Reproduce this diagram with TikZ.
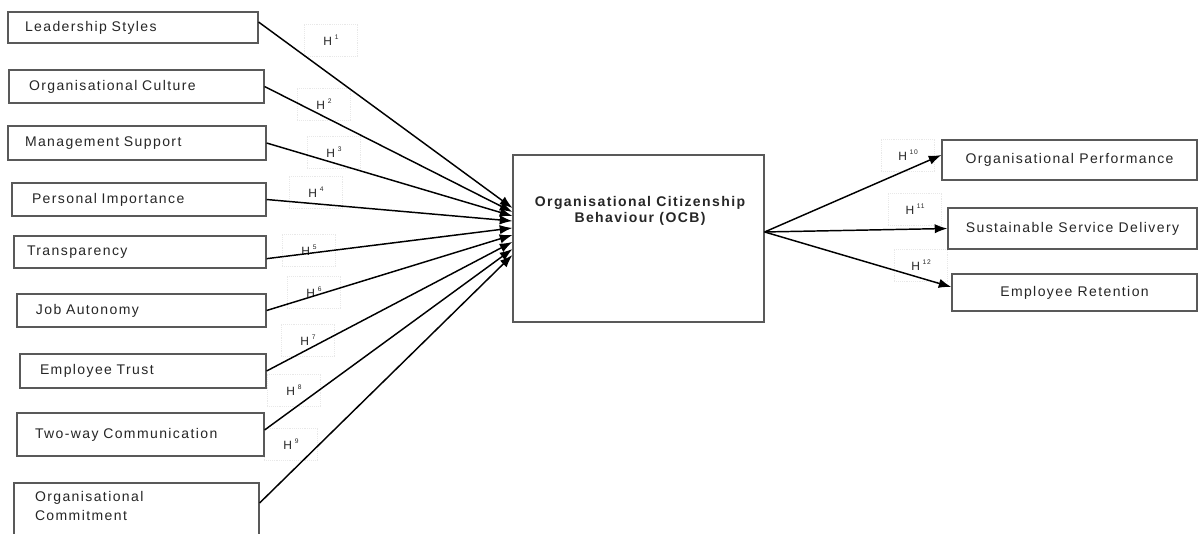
\documentclass[tikz,border=0pt]{standalone}
\usepackage{fontspec}
\setmainfont{Liberation Sans}[LetterSpace=10]
\usetikzlibrary{arrows.meta}
\newcommand{\Hsup}[1]{H\hspace{2pt}\raisebox{4.5pt}{\fontsize{5}{5}\selectfont #1}}
\begin{document}
\begin{tikzpicture}[x=0.75pt,y=-0.75pt,
  inbox/.style={draw=black!65, line width=0.9pt, fill=white, align=left, inner ysep=0pt,
    font=\fontsize{10.5}{14}\selectfont, text=black!85},
  outbox/.style={draw=black!65, line width=0.9pt, fill=white, align=center, inner sep=0pt,
    font=\fontsize{10.5}{14}\selectfont, text=black!85},
  link/.style={line width=1.1pt, -{Latex[length=9.5pt,width=7pt]}},
  hlab/.style={draw=black!9, densely dotted, font=\fontsize{9}{9}\selectfont,
    minimum width=40pt, minimum height=24pt, text=black!85, inner sep=1pt}
]
\useasboundingbox (0,0) rectangle (1198,533);

% hypothesis labels (drawn first so the connectors lie on top)
\node[hlab] (h1) at (331,40) {\Hsup{1}};
\node[hlab] (h2) at (324,104) {\Hsup{2}};
\node[hlab] (h3) at (334,152) {\Hsup{3}};
\node[hlab] (h4) at (316,192) {\Hsup{4}};
\node[hlab] (h5) at (309,250) {\Hsup{5}};
\node[hlab] (h6) at (314,292) {\Hsup{6}};
\node[hlab] (h7) at (308,340) {\Hsup{7}};
\node[hlab] (h8) at (294,390) {\Hsup{8}};
\node[hlab] (h9) at (291,444) {\Hsup{9}};
\node[hlab] (h10) at (908,155) {\Hsup{10}};
\node[hlab] (h11) at (915,209) {\Hsup{11}};
\node[hlab] (h12) at (921,265) {\Hsup{12}};

% input boxes
\node[inbox, minimum width=187.5pt, minimum height=23.25pt, text width=162pt, inner xsep=12.75pt] (n1) at (133,27.5) {Leadership Styles};
\node[inbox, minimum width=191.25pt, minimum height=24.75pt, text width=161.25pt, inner xsep=15pt] (n2) at (136.5,86.5) {Organisational Culture};
\node[inbox, minimum width=193.5pt, minimum height=25.5pt, text width=168pt, inner xsep=12.75pt] (n3) at (137,143) {Management Support};
\node[inbox, minimum width=190.5pt, minimum height=24.75pt, text width=160.5pt, inner xsep=15pt] (n4) at (139,199.5) {Personal Importance};
\node[inbox, minimum width=189pt, minimum height=24pt, text width=169.5pt, inner xsep=9.75pt] (n5) at (140,252) {Transparency};
\node[inbox, minimum width=186.75pt, minimum height=24.75pt, text width=158.25pt, inner xsep=14.25pt] (n6) at (141.5,310.5) {Job Autonomy};
\node[inbox, minimum width=184.5pt, minimum height=25.5pt, text width=154.5pt, inner xsep=15pt] (n7) at (143,371) {Employee Trust};
\node[inbox, minimum width=185.25pt, minimum height=32.25pt, text width=158.25pt, inner xsep=13.5pt] (n8) at (140.5,434.5) {Two-way Communication};
\node[inbox, minimum width=183.75pt, minimum height=43.5pt, text width=152.25pt, inner xsep=15.75pt] (n9) at (136.5,512) {Organisational\\Commitment\rule[-9pt]{0pt}{9pt}};

% central box
\node[outbox, minimum width=188.25pt, minimum height=125.25pt] (ocb) at (638.5,238.5) {};
\node[align=center, inner sep=0pt, font=\fontsize{10.5}{12}\selectfont\bfseries, text=black!85] (ocbt) at (640,211) {Organisational Citizenship\\Behaviour (OCB)};

% output boxes
\node[outbox, minimum width=191.25pt, minimum height=30pt] (o1) at (1069.5,160) {Organisational Performance};
\node[outbox, minimum width=186.75pt, minimum height=30.75pt] (o2) at (1072.5,228.5) {Sustainable Service Delivery};
\node[outbox, minimum width=183.75pt, minimum height=27.75pt] (o3) at (1074.5,292.5) {Employee Retention};

% links in
\draw[link] ([yshift=4.1pt]n1.east) -- ([yshift=22.9pt]ocb.west);
\draw[link] (n2.east) -- ([yshift=19.9pt]ocb.west);
\draw[link] (n3.east) -- ([yshift=16.9pt]ocb.west);
\draw[link] (n4.east) -- ([yshift=13.1pt]ocb.west);
\draw[link] ([yshift=-5pt]n5.east) -- ([yshift=7.9pt]ocb.west);
\draw[link] (n6.east) -- ([yshift=2.6pt]ocb.west);
\draw[link] (n7.east) -- ([yshift=-2.6pt]ocb.west);
\draw[link] ([yshift=3.4pt]n8.east) -- ([yshift=-7.9pt]ocb.west);
\draw[link] ([yshift=6.75pt]n9.east) -- ([yshift=-12.4pt]ocb.west);

% links out
\draw[link] ([yshift=4.9pt]ocb.east) -- ([yshift=3.75pt]o1.west);
\draw[link] ([yshift=4.9pt]ocb.east) -- (o2.west);
\draw[link] ([yshift=4.9pt]ocb.east) -- ([yshift=4.1pt]o3.west);
\end{tikzpicture}
\end{document}
